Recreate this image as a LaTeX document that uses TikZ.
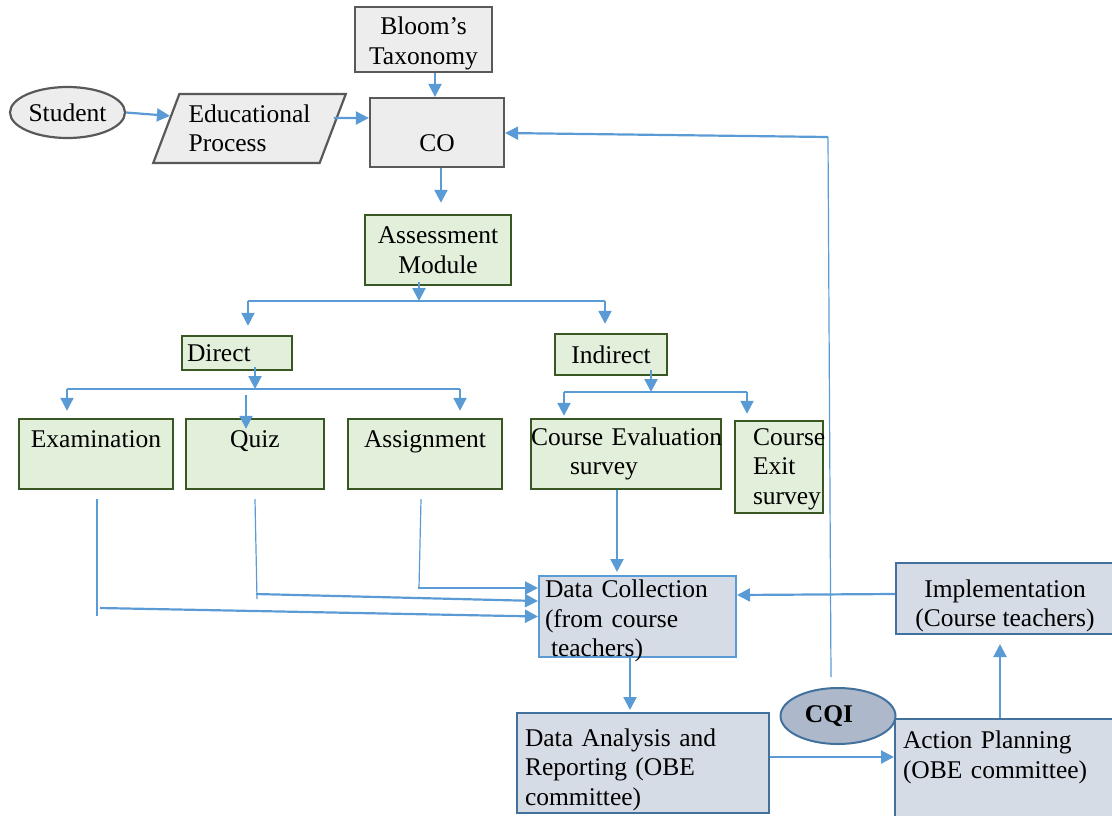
\documentclass[tikz,border=0pt]{standalone}
\usepackage{fontspec}
\setmainfont{Liberation Serif}
\usetikzlibrary{arrows.meta,shapes.geometric}

\definecolor{flowblue}{HTML}{5B9BD5}
\definecolor{grayline}{HTML}{595959}
\definecolor{grayfill}{HTML}{EDEDED}
\definecolor{greenline}{HTML}{385723}
\definecolor{greenfill}{HTML}{E2EFDA}
\definecolor{blueline}{HTML}{41719C}
\definecolor{bluefill}{HTML}{D6DCE5}
\definecolor{cqifill}{HTML}{ADB9CA}

\begin{document}
\begin{tikzpicture}[x=1pt,y=-1pt,
  every node/.style={font=\fontsize{25.5}{29.5}\selectfont, inner sep=0pt},
  sz/.style n args={2}{minimum width=#1, minimum height=#2},
  graybox/.style={draw=grayline, fill=grayfill, line width=2.2pt},
  greenbox/.style={draw=greenline, fill=greenfill, line width=2.4pt},
  bluebox/.style={draw=blueline, fill=bluefill, line width=2pt},
  lightbluebox/.style={draw=flowblue, fill=bluefill, line width=2pt},
  arr/.style={draw=flowblue, line width=2.2pt, -{Triangle[length=13pt,width=13pt]}},
  feed/.style={draw=flowblue, line width=1.2pt},
  bar/.style={draw=flowblue, line width=1.6pt}]
\useasboundingbox (0,0) rectangle (1112,815);

% ---------- top: inputs to the course outcomes ----------
\node[graybox, sz={137}{65}, align=center] (bloom) at (423.5,39.5) {\rule{0pt}{25pt}Bloom’s\\Taxonomy};
\node[graybox, ellipse, sz={115}{51}] (stu) at (67.5,112.5) {Student};
\node[graybox, trapezium, trapezium stretches=true, trapezium left angle=64.4,
      trapezium right angle=115.6, sz={193}{69}, align=left] (ep) at (249.5,128.5)
      {Educational\\Process};
\node[graybox, sz={134}{69}, align=center] (co) at (437,132.5) {\mbox{}\\[8pt]CO};

% ---------- assessment tree ----------
\node[greenbox, sz={146}{70}, align=center] (am) at (438,250) {Assessment\\Module};
\node[greenbox, sz={110}{34}, inner xsep=5pt, text width=100pt, align=left] (direct) at (237,353) {Direct};
\node[greenbox, sz={112}{41}, align=center] (indirect) at (611,354.5) {Indirect};

\node[greenbox, sz={154}{70}, align=center] (exam) at (96,454) {Examination\\\mbox{}};
\node[greenbox, sz={138}{70}, align=center] (quiz) at (255,454) {Quiz\\\mbox{}};
\node[greenbox, sz={154}{70}, align=center] (assign) at (425,454) {Assignment\\\mbox{}};
\node[greenbox, sz={190}{70}, text width=190pt, align=left] (ces) at (626,454)
      {\mbox{Course Evaluation}\\\hspace*{39pt}survey};
\node[greenbox, sz={88}{92}, inner xsep=18pt, text width=52pt, align=left] (exit) at (779,467)
      {\rule{0pt}{21pt}Course\\Exit\\survey};

% ---------- CQI loop ----------
\node[lightbluebox, sz={197}{81}, inner xsep=6pt, inner ysep=-5.5pt, text width=185pt, align=left]
      (dc) at (637.5,616.5)
      {\rule{0pt}{27pt}Data Collection\\(from course\\\hspace*{6pt}teachers)};
\node[bluebox, sz={218}{71}, align=center] (impl) at (1005,598.5)
      {\rule{0pt}{32pt}Implementation\\(Course teachers)};
\node[bluebox, sz={252}{100}, inner xsep=8pt, text width=236pt, align=left] (da) at (643,763)
      {\rule{0pt}{31pt}Data Analysis and\\Reporting (OBE\\committee)};
\node[bluebox, sz={223}{101}, inner xsep=8pt, text width=207pt, align=left] (ap) at (1006.5,769.5)
      {Action Planning\\(OBE committee)\\\mbox{}};
\node[draw=blueline, fill=cqifill, line width=2pt, ellipse, sz={115}{56},
      font=\fontsize{25.5}{29.5}\selectfont\bfseries] (cqi) at (838,716) {CQI\hspace*{18pt}};

% ---------- connectors: top ----------
\draw[arr] (stu.east) -- (ep.171);
\draw[arr] ([yshift=10.5pt]ep.east) -- ([yshift=14.5pt]co.west);
\draw[arr] ([xshift=11.5pt]bloom.south) -- ([xshift=-2pt]co.north);
\draw[arr] ([xshift=4pt]co.south) -- ([xshift=3pt,yshift=11pt]am.north);

% assessment module split
\coordinate (j1) at (419,301);
\coordinate (j1l) at (248,301);
\coordinate (j1r) at (605,301);
\draw[arr] ([yshift=4pt]am.south -| j1) -- (j1);
\draw[bar] (j1l) -- (j1r);
\draw[arr] (j1l) -- ([yshift=9pt]direct.north -| j1l);
\draw[arr] (j1r) -- ([yshift=9pt]indirect.north -| j1r);

% direct split
\coordinate (j2) at (255,389);
\coordinate (j2l) at (67,389);
\coordinate (j2r) at (460,389);
\coordinate (q0) at (246,395);
\draw[arr] ([yshift=4pt]direct.south -| j2) -- (j2);
\draw[bar] (j2l) -- (j2r);
\draw[arr] (j2l) -- ([yshift=7pt]exam.north -| j2l);
\draw[arr] (j2r) -- ([yshift=7pt]assign.north -| j2r);
\draw[arr] (q0) -- ([yshift=-11pt]quiz.north -| q0);

% indirect split
\coordinate (j3) at (651,392);
\coordinate (j3l) at (564,392);
\coordinate (j3r) at (747,392);
\draw[arr] ([yshift=6pt]indirect.south -| j3) -- (j3);
\draw[bar] (j3l) -- (j3r);
\draw[arr] (j3l) -- ([yshift=2pt]ces.north -| j3l);
\draw[arr] (j3r) -- ([yshift=6pt]exit.north -| j3r);

% direct assessments feed the data collection
\draw[feed] ([xshift=1pt,yshift=-9pt]exam.south) -- (97,616);
\draw[arr] (100,608) -- (dc.west);
\draw[feed] ([yshift=-9pt]quiz.south) -- (257,599);
\draw[arr] (256,594) -- ([yshift=15.5pt]dc.west);
\draw[feed] ([xshift=-4pt,yshift=-9pt]assign.south) -- (419,588);
\draw[arr] (418,588) -- ([yshift=28.5pt]dc.west);
\draw[arr] ([xshift=-9pt]ces.south) -- ([xshift=-20.5pt,yshift=3pt]dc.north);

% improvement cycle
\draw[arr] ([yshift=4.5pt]impl.west) -- ([yshift=21.5pt]dc.east);
\draw[arr] ([xshift=-7.5pt]dc.south) -- ([xshift=-13pt,yshift=2pt]da.north);
\draw[arr] ([yshift=6pt]da.east) -- ([yshift=12.5pt]ap.west);
\draw[arr] ([xshift=-6.5pt]ap.north) -- ([xshift=-5pt,yshift=-9pt]impl.south);

% CQI feedback to the course outcomes
\coordinate (loop) at (828,137);
\draw[feed] ([xshift=-7pt,yshift=10pt]cqi.north) -- (loop);
\draw[arr] (loop) -- ([yshift=-0.5pt]co.east);
\end{tikzpicture}
\end{document}
